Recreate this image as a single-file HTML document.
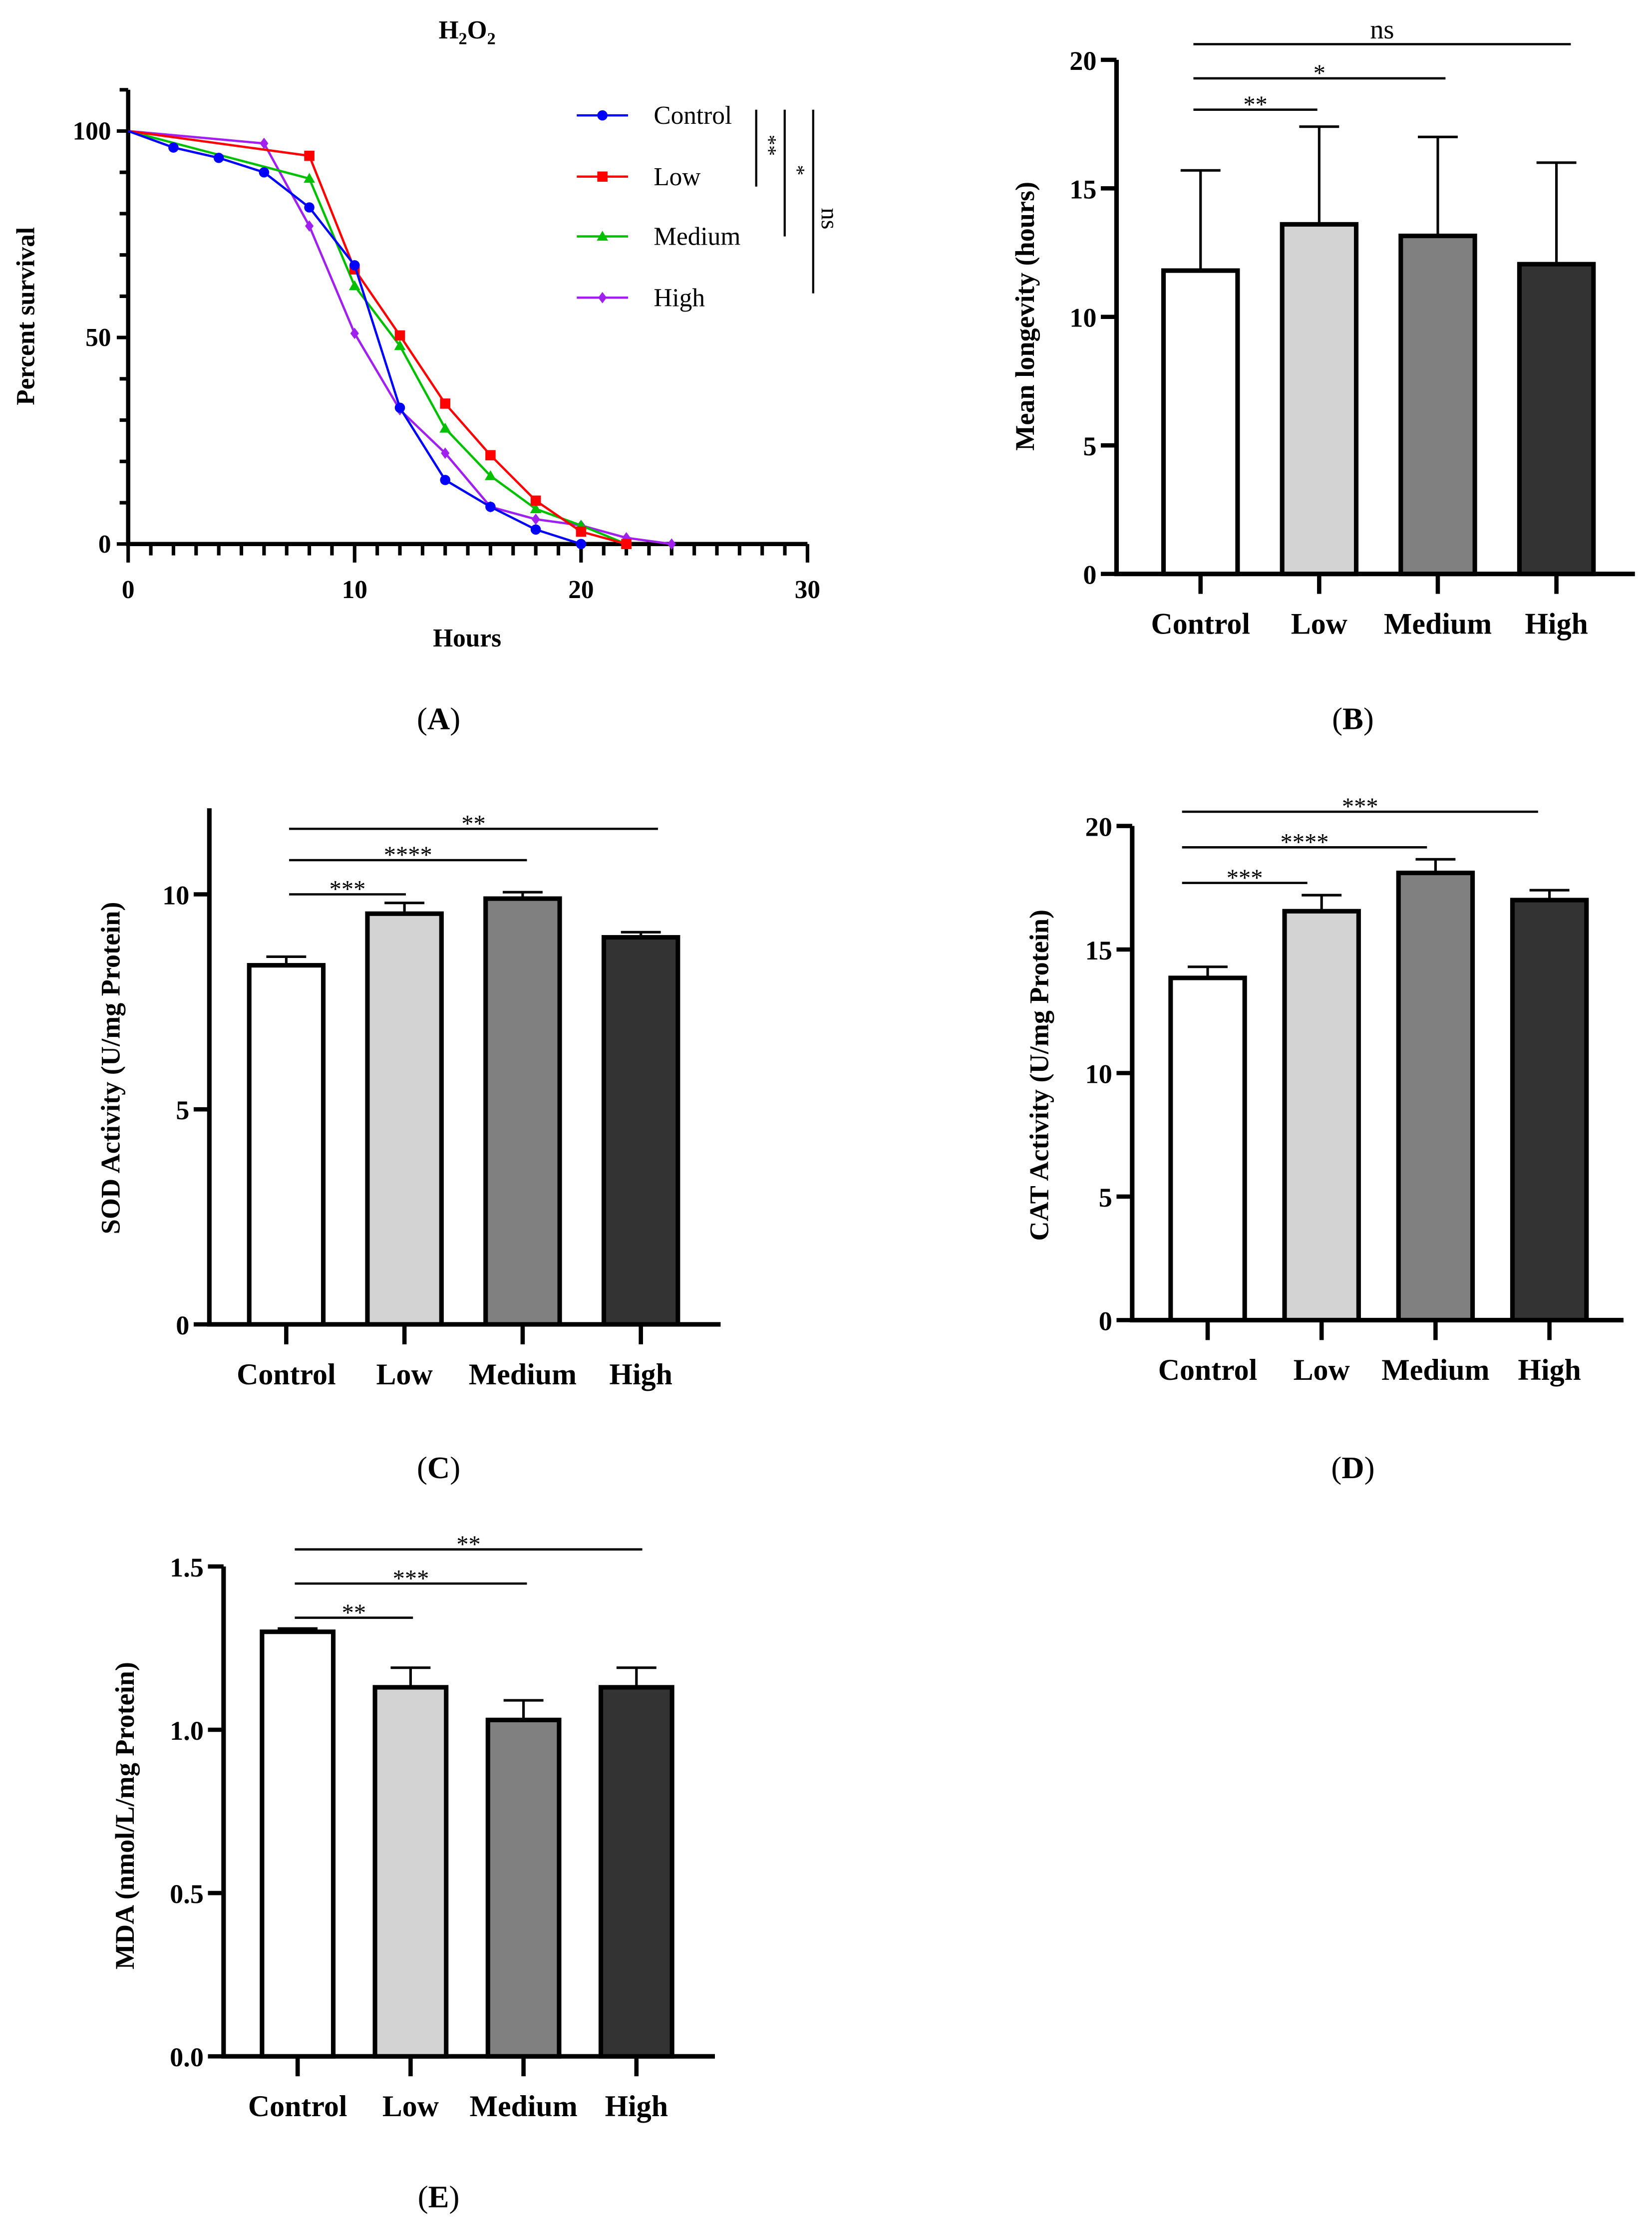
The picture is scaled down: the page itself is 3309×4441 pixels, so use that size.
<!DOCTYPE html>
<html><head><meta charset="utf-8"><style>
html,body{margin:0;padding:0;background:#fff}
svg{display:block}
text{font-family:"Liberation Serif",serif;fill:#000}
.b{font-weight:bold}
</style></head><body>
<svg id="fig" width="3309" height="4441" viewBox="0 0 1160 1556.8" xmlns="http://www.w3.org/2000/svg"></svg>
<script>
// ---------- Panel A data ----------
const survSeries = ['Control','Low','Medium','High'];
const survColors = ['#0000ff','#ff0000','#00c000','#a020f0'];
const controlHours = [0,2,4,6,8,10,12,14,16,18,20];
const controlSurv = [100,96,93.5,90,81.5,67.5,33,15.5,9,3.5,0];
const lowHours = [0,8,10,12,14,16,18,20,22];
const lowSurv = [100,94,66.5,50.5,34,21.5,10.5,3,0];
const mediumHours = [0,8,10,12,14,16,18,20,22];
const mediumSurv = [100,88.5,62.5,48,28,16.5,8.5,4.5,0];
const highHours = [0,6,8,10,12,14,16,18,20,22,24];
const highSurv = [100,97,77,51,32.5,22,9,6,4.5,1.5,0];
const xTicksA = [0,10,20,30];
const yTicksA = [0,50,100];
const sigA = ['**','*','ns'];

// ---------- Bar panels data ----------
const groups = ['Control','Low','Medium','High'];
const longevity = [11.8,13.6,13.15,12.05];
const longevityErr = [15.7,17.4,17.0,16.0];
const longevityTicks = [0,5,10,15,20];
const longevitySig = ['**','*','ns'];
const sod = [8.35,9.55,9.9,9.0];
const sodErr = [8.55,9.8,10.05,9.12];
const sodTicks = [0,5,10];
const sodSig = ['***','****','**'];
const cat = [13.85,16.55,18.1,17.0];
const catErr = [14.3,17.2,18.65,17.4];
const catTicks = [0,5,10,15,20];
const catSig = ['***','****','***'];
const mda = [1.30,1.13,1.03,1.13];
const mdaErr = [1.31,1.19,1.09,1.19];
const mdaTicks = ['0.0','0.5','1.0','1.5'];
const mdaSig = ['**','***','**'];

const NS='http://www.w3.org/2000/svg';
const svg=document.getElementById('fig');
function el(tag,attrs,parent){const e=document.createElementNS(NS,tag);for(const k in attrs)e.setAttribute(k,attrs[k]);(parent||svg).appendChild(e);return e;}
function txt(s,x,y,size,bold,parent,anchor,rot){const t=el('text',{x:x,y:y,'font-size':size,'text-anchor':anchor||'middle'},parent);if(bold)t.setAttribute('font-weight','bold');if(rot)t.setAttribute('transform','rotate('+rot+' '+x+' '+y+')');t.textContent=s;return t;}

// ---------- Panel A ----------
(function(){
  const g=el('g',{});
  
  
  const X=v=>90+(v/30)*477, Y=v=>382-(v/100)*290;
  const t=txt('H',313,27,18,true,g);
  
  t.innerHTML='H<tspan font-size="12" dy="4">2</tspan><tspan dy="-4">O</tspan><tspan font-size="12" dy="4">2</tspan>';
  t.setAttribute('x',328);
  const ax=el('path',{d:`M${X(0)} ${Y(110)} V${Y(0)} H${X(30)}`,stroke:'#000','stroke-width':3,fill:'none'},g);
  
  for(let v=0;v<=110;v+=10){const l=el('line',{x1:X(0)-(v%50===0?8:6),x2:X(0),y1:Y(v),y2:Y(v),stroke:'#000','stroke-width':2.5},g);}
  for(let v=0;v<=30;v++){const l=el('line',{x1:X(v),x2:X(v),y1:Y(0),y2:Y(0)+(v%10===0?13:8),stroke:'#000','stroke-width':2.5},g);}
  yTicksA.forEach(v=>{const t=txt(String(v),X(0)-12,Y(v)+6,18,true,g,'end');});
  xTicksA.forEach(v=>{const t=txt(String(v),X(v),Y(0)+38,18,true,g);});
  const yl=txt('Percent survival',24,222,18,true,g,'middle',-90);
  const xl=txt('Hours',328,454,18,true,g);
  const hrs=[controlHours,lowHours,mediumHours,highHours], vals=[controlSurv,lowSurv,mediumSurv,highSurv];
  function marker(kind,x,y,c,parent){
    let m;
    if(kind===0)m=el('circle',{cx:x,cy:y,r:3.6,fill:c},parent);
    else if(kind===1)m=el('rect',{x:x-3.6,y:y-3.6,width:7.2,height:7.2,fill:c},parent);
    else if(kind===2)m=el('path',{d:`M${x} ${y-4} L${x+4} ${y+3} L${x-4} ${y+3}Z`,fill:c},parent);
    else m=el('path',{d:`M${x} ${y-4} L${x+3} ${y} L${x} ${y+4} L${x-3} ${y}Z`,fill:c},parent);
    
  }
  [3,2,1,0].forEach(i=>{
    const c=survColors[i];
    const p=el('polyline',{points:hrs[i].map((h,j)=>X(h)+','+Y(vals[i][j])).join(' '),fill:'none',stroke:c,'stroke-width':1.6},g);
    
    hrs[i].forEach((h,j)=>{if(h>0)marker(i,X(h),Y(vals[i][j]),c,g);});
  });
  const ly=[81,124,166,209];
  survSeries.forEach((s,i)=>{
    const lg=el('g',{},g);
    el('line',{x1:405,x2:441,y1:ly[i],y2:ly[i],stroke:survColors[i],'stroke-width':1.6},lg);
    marker(i,423,ly[i],survColors[i],lg);
    txt(s,459,ly[i]+6,18,false,lg,'start');
  });
  const sx=[531,551,571], sy2=[131,166,206];
  sigA.forEach((s,i)=>{
    const l=el('line',{x1:sx[i],x2:sx[i],y1:77,y2:sy2[i],stroke:'#000','stroke-width':1.5},g);
    const t=txt(s,sx[i]+(s==='ns'?6:4),(77+sy2[i])/2+(s==='ns'?12:-2),s==='ns'?17:15,false,g,'middle',90);
  });
  const pl=txt('(A)',308,512,22,false,g);
  pl.innerHTML='(<tspan font-weight="bold">A</tspan>)';
})();

// ---------- Bar panels ----------
function barChart(cfg){
  const g=el('g',{});
  
  
  const Y=v=>cfg.y0-(v/cfg.refVal)*(cfg.y0-cfg.yRef);
  const cx=i=>cfg.c0+i*cfg.step;
  const fills=['#ffffff','#d3d3d3','#808080','#333333'];
  const ax=el('path',{d:`M${cfg.ax} ${Y(cfg.top)} V${cfg.y0} H${cfg.right}`,stroke:'#000','stroke-width':3.2,fill:'none'},g);
  
  cfg.ticks.forEach(tk=>{const v=parseFloat(tk);
    const l=el('line',{x1:cfg.ax-11,x2:cfg.ax,y1:Y(v),y2:Y(v),stroke:'#000','stroke-width':3},g);
    const t=txt(String(tk),cfg.ax-14,Y(v)+7,19,true,g,'end');});
  groups.forEach((gr,i)=>{
    const x=cx(i);
    const e=el('line',{x1:x,x2:x,y1:Y(cfg.err[i]),y2:Y(cfg.vals[i]),stroke:'#000','stroke-width':1.8},g);
    const cp=el('line',{x1:x-14,x2:x+14,y1:Y(cfg.err[i]),y2:Y(cfg.err[i]),stroke:'#000','stroke-width':1.8},g);
    const r=el('rect',{x:x-cfg.bw/2,y:Y(cfg.vals[i]),width:cfg.bw,height:cfg.y0-Y(cfg.vals[i]),fill:fills[i],stroke:'#000','stroke-width':3.2},g);
    const tk=el('line',{x1:x,x2:x,y1:cfg.y0,y2:cfg.y0+14,stroke:'#000','stroke-width':3},g);
    const t=txt(gr,x,cfg.y0+42,21,true,g);
  });
  cfg.sig.forEach((s,i)=>{
    const y=cfg.sigY[i];
    const l=el('line',{x1:cfg.sigX0,x2:cfg.sigX1[i],y1:y,y2:y,stroke:'#000','stroke-width':1.6},g);
    const t=txt(s,(cfg.sigX0+cfg.sigX1[i])/2,y-(s==='ns'?4:-2),s==='ns'?19:17,false,g);
  });
  const yl=txt(cfg.ylabel,cfg.ylx,cfg.yly,19,true,g,'middle',-90);
  const pl=txt('',cfg.plx,cfg.ply,22,false,g);
  pl.innerHTML='(<tspan font-weight="bold">'+cfg.letter+'</tspan>)';
}
barChart({name:'longevity-chart',letter:'B',vals:longevity,err:longevityErr,ticks:longevityTicks,sig:longevitySig,
  ax:784,right:1148,y0:403,yRef:42,refVal:20,top:20,c0:843,step:83.3,bw:52,
  sigX0:838,sigX1:[925,1015,1103],sigY:[77,55,31],ylabel:'Mean longevity (hours)',ylx:726,yly:222,plx:950,ply:512});
barChart({name:'sod-chart',letter:'C',vals:sod,err:sodErr,ticks:sodTicks,sig:sodSig,
  ax:147,right:506,y0:930,yRef:628,refVal:10,top:12,c0:201,step:83,bw:52,
  sigX0:203,sigX1:[285,370,462],sigY:[628,604,582],ylabel:'SOD Activity (U/mg Protein)',ylx:84,yly:750,plx:308,ply:1038});
barChart({name:'cat-chart',letter:'D',vals:cat,err:catErr,ticks:catTicks,sig:catSig,
  ax:795,right:1140,y0:927,yRef:580,refVal:20,top:20,c0:848,step:80,bw:52,
  sigX0:830,sigX1:[918,1002,1080],sigY:[620,595,570],ylabel:'CAT Activity (U/mg Protein)',ylx:736,yly:755,plx:950,ply:1038});
barChart({name:'mda-chart',letter:'E',vals:mda,err:mdaErr,ticks:mdaTicks,sig:mdaSig,
  ax:157,right:502,y0:1444,yRef:1100,refVal:1.5,top:1.5,c0:209,step:79.3,bw:50,
  sigX0:207,sigX1:[290,370,451],sigY:[1136,1112,1088],ylabel:'MDA (nmol/L/mg Protein)',ylx:94,yly:1275,plx:308,ply:1550});
</script>
</body></html>
